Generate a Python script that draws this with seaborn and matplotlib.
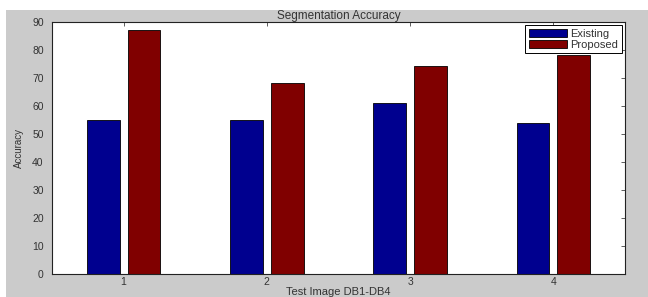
import numpy as np
import pandas as pd
import matplotlib.pyplot as plt
import seaborn as sns
from matplotlib.patches import Rectangle

sns.set_style("white")
plt.rcParams['font.family'] = ['Liberation Sans', 'DejaVu Sans']

images = ["1", "2", "3", "4"]
existing = [55, 55, 61, 54]
proposed = [87, 68.3, 74.3, 78.2]

df = pd.DataFrame({
    "Image": images * 2,
    "Accuracy": existing + proposed,
    "Method": ["Existing"] * 4 + ["Proposed"] * 4,
})

W, H = 648, 297
fig = plt.figure(figsize=(W / 100, H / 100), dpi=100, facecolor="white")
# grey matlab figure background
fig.patches.append(Rectangle((6 / W, 0), 1 - 6 / W, (H - 10) / H,
                             transform=fig.transFigure, facecolor="#cbcbcb",
                             edgecolor="none", zorder=-10))

ax = fig.add_axes([52 / W, (H - 274) / H, 573 / W, 252 / H])
ax.set_facecolor("white")

sns.barplot(data=df, x="Image", y="Accuracy", hue="Method",
            palette=["#00008f", "#800000"], saturation=1, width=0.571, gap=0.2,
            edgecolor="black", linewidth=0.6, ax=ax)

ax.set_xlim(-0.5, 3.5)
ax.set_ylim(0, 90)
ax.set_yticks(np.arange(0, 91, 10))
ax.set_title("Segmentation Accuracy", fontsize=8.5, color="#333333", pad=2)
ax.set_xlabel("Test Image DB1-DB4", fontsize=8, color="#333333", labelpad=0)
ax.set_ylabel("Accuracy", fontsize=7, color="#333333", labelpad=6)
ax.tick_params(direction="in", length=3, width=0.6, top=True, right=True,
               labelsize=7.5, labelcolor="#333333", color="#444444")
ax.tick_params(axis="y", pad=6)
ax.tick_params(axis="x", pad=2)

for s in ax.spines.values():
    s.set_visible(True)
    s.set_color("#222222")
    s.set_linewidth(0.8)

leg = ax.legend(loc="upper right", fontsize=8, frameon=True, fancybox=False,
                edgecolor="black", framealpha=1, borderaxespad=0.3,
                handlelength=3.4, handleheight=0.7, handletextpad=0.35,
                labelspacing=0.1, borderpad=0.3)
leg.get_frame().set_linewidth(0.7)
for t in leg.get_texts():
    t.set_color("#333333")

fig.savefig("out.png", dpi=100, facecolor="white")
